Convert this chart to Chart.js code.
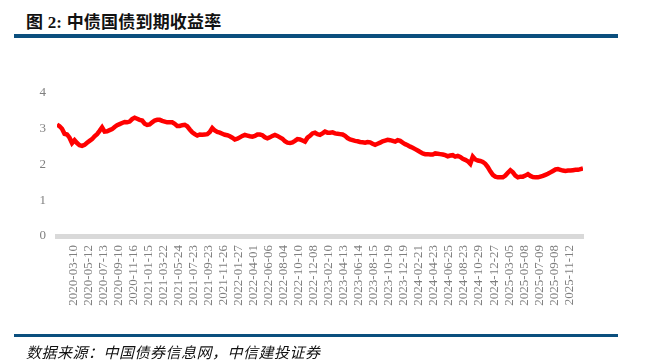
<!DOCTYPE html>
<html lang="zh">
<head>
<meta charset="UTF-8">
<title>中债国债到期收益率</title>
<script src="https://cdn.jsdelivr.net/npm/chart.js"></script>
<style>
    body {
        margin: 0;
        width: 661px;
        height: 364px;
        background: #ffffff;
        position: relative;
        overflow: hidden;
    }
    .title {
        position: absolute;
        left: 26px;
        top: 8px;
        font-family: "Liberation Serif", "Noto Sans CJK SC", serif;
        font-weight: bold;
        font-size: 17px;
        letter-spacing: 0.2px;
        color: #111;
        white-space: nowrap;
    }
    .bar {
        position: absolute;
        left: 14px;
        width: 604px;
        background: #0b4f7e;
    }
    .source {
        position: absolute;
        left: 26px;
        top: 341px;
        font-family: "Noto Sans CJK SC", sans-serif;
        font-style: italic;
        font-size: 15px;
        letter-spacing: 0.5px;
        color: #111;
        white-space: nowrap;
    }
    #wrap {
        position: absolute;
        left: 0;
        top: 0;
        width: 661px;
        height: 364px;
    }
</style>
</head>
<body>
<div class="title">图 2: 中债国债到期收益率</div>
<div class="bar" style="top:34px; height:4px;"></div>
<div id="wrap"><canvas id="myChart"></canvas></div>
<div class="bar" style="top:334px; height:3px;"></div>
<div class="source">数据来源：中国债券信息网，中信建投证券</div>

<script>
    // x-axis labels, one every 6 samples
    var tickLabels = [
        '2020-03-10', '2020-05-12', '2020-07-13', '2020-09-10', '2020-11-16',
        '2021-01-15', '2021-03-22', '2021-05-24', '2021-07-23', '2021-09-23',
        '2021-11-26', '2022-01-27', '2022-04-01', '2022-06-06', '2022-08-04',
        '2022-10-10', '2022-12-08', '2023-02-10', '2023-04-13', '2023-06-14',
        '2023-08-15', '2023-10-19', '2023-12-19', '2024-02-21', '2024-04-23',
        '2024-06-25', '2024-08-23', '2024-10-29', '2024-12-27', '2025-03-05',
        '2025-05-08', '2025-07-09', '2025-09-08', '2025-11-12'
    ];
    var ticksEvery = 6;
    var firstTick = 6.5;

    // yield (%), sampled evenly along the period
    var yields = [
        3.12, 3.07, 3.00, 2.86, 2.84, 2.75, 2.60, 2.68, 2.60, 2.54,
        2.52, 2.55, 2.61, 2.66, 2.71, 2.79, 2.85, 2.94, 3.04, 2.92,
        2.93, 2.96, 2.99, 3.05, 3.10, 3.13, 3.16, 3.19, 3.18, 3.20,
        3.27, 3.31, 3.28, 3.25, 3.23, 3.14, 3.11, 3.12, 3.18, 3.23,
        3.25, 3.25, 3.22, 3.20, 3.18, 3.18, 3.18, 3.14, 3.08, 3.08,
        3.10, 3.11, 3.07, 2.98, 2.90, 2.85, 2.81, 2.84, 2.83, 2.84,
        2.85, 2.91, 3.02, 2.95, 2.91, 2.89, 2.86, 2.83, 2.82, 2.79,
        2.75, 2.70, 2.72, 2.76, 2.80, 2.83, 2.81, 2.79, 2.78, 2.80,
        2.84, 2.84, 2.82, 2.76, 2.73, 2.76, 2.80, 2.83, 2.80, 2.76,
        2.72, 2.65, 2.61, 2.60, 2.62, 2.66, 2.71, 2.70, 2.67, 2.64,
        2.75, 2.80, 2.87, 2.89, 2.85, 2.83, 2.87, 2.92, 2.89, 2.89,
        2.90, 2.87, 2.86, 2.85, 2.84, 2.80, 2.74, 2.70, 2.68, 2.66,
        2.65, 2.63, 2.62, 2.61, 2.63, 2.62, 2.58, 2.55, 2.58, 2.61,
        2.65, 2.67, 2.69, 2.68, 2.66, 2.64, 2.68, 2.66, 2.61, 2.57,
        2.54, 2.50, 2.47, 2.43, 2.39, 2.35, 2.31, 2.29, 2.29, 2.28,
        2.28, 2.31, 2.30, 2.29, 2.28, 2.26, 2.23, 2.25, 2.26, 2.22,
        2.24, 2.21, 2.16, 2.13, 2.09, 2.02, 2.22, 2.14, 2.11, 2.10,
        2.07, 2.02, 1.93, 1.81, 1.71, 1.66, 1.64, 1.64, 1.64, 1.69,
        1.77, 1.84, 1.78, 1.69, 1.64, 1.66, 1.66, 1.69, 1.73, 1.68,
        1.65, 1.64, 1.64, 1.66, 1.68, 1.71, 1.74, 1.78, 1.82, 1.86,
        1.87, 1.85, 1.83, 1.82, 1.83, 1.83, 1.84, 1.85, 1.85, 1.87,
        1.89
    ];
    var yTicks = [0, 1, 2, 3, 4];

    var axisFont = { family: "'Liberation Serif', 'Times New Roman', serif", size: 13 };

    var ctx = document.getElementById('myChart').getContext('2d');
    var myChart = new Chart(ctx, {
        type: 'line',
        data: {
            datasets: [{
                label: '中债国债到期收益率',
                data: yields.map(function (v, i) { return { x: i, y: v }; }),
                borderColor: '#ff0000',
                borderWidth: 4.5,
                pointRadius: 0,
                tension: 0,
                fill: false
            }]
        },
        options: {
            responsive: true,
            maintainAspectRatio: false,
            animation: false,
            layout: {
                padding: { top: 93, left: 0, right: 78, bottom: 48 }
            },
            plugins: {
                legend: { display: false },
                tooltip: { enabled: false }
            },
            scales: {
                x: {
                    type: 'linear',
                    min: 0,
                    max: yields.length - 1,
                    grid: { display: false, drawTicks: false },
                    border: { display: true, color: '#d9d9d9', width: 5 },
                    afterFit: function (scale) { scale.height = 80; },
                    afterBuildTicks: function (scale) {
                        scale.ticks = tickLabels.map(function (_, k) {
                            return { value: firstTick + ticksEvery * k };
                        });
                    },
                    ticks: {
                        autoSkip: false,
                        maxRotation: 90,
                        minRotation: 90,
                        padding: 9,
                        color: '#7f7f7f',
                        font: axisFont,
                        callback: function (value, index) { return tickLabels[index]; }
                    }
                },
                y: {
                    min: yTicks[0],
                    max: yTicks[yTicks.length - 1],
                    grid: { display: false, drawTicks: false },
                    border: { display: false },
                    afterFit: function (scale) { scale.width = 57; },
                    ticks: {
                        stepSize: 1,
                        padding: 11,
                        color: '#7f7f7f',
                        font: axisFont
                    }
                }
            }
        }
    });
</script>
</body>
</html>
